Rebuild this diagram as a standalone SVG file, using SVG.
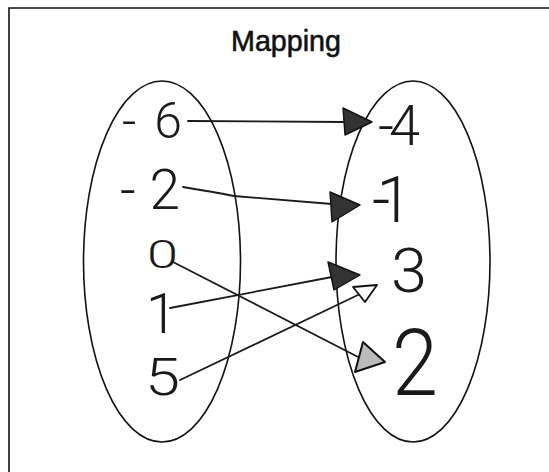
<svg xmlns="http://www.w3.org/2000/svg" width="549" height="472" viewBox="0 0 549 472">
<defs>
<style>
.frame{fill:none;stroke:#111;stroke-width:1.6}
.set{fill:none;stroke:#111;stroke-width:1.6}
.title{font-family:"Liberation Sans","DejaVu Sans",sans-serif;font-size:30px;fill:#111;stroke:#111;stroke-width:0.6;text-anchor:middle}
.num{font-family:Roboto,"Liberation Sans",sans-serif;font-weight:300;fill:#1a1a1a}
.edge{fill:none;stroke:#1a1a1a;stroke-width:1.8;stroke-linecap:round}
.headfill{fill:#333;stroke:#111;stroke-width:1.4;stroke-linejoin:round}
.headopen{fill:#fff;stroke:#111;stroke-width:1.8;stroke-linejoin:round}
.headhatch{fill:#bbb;stroke:#111;stroke-width:2;stroke-linejoin:round}
</style>
</defs>
<rect width="549" height="472" fill="#fff"/>
<path class="frame" d="M9,480 L9,8 L560,8"/>
<text class="title" x="286" y="51" textLength="110" lengthAdjust="spacingAndGlyphs">Mapping</text>

<g id="domain">
<ellipse class="set" cx="162" cy="261.5" rx="78.5" ry="180.5"/>
</g>
<g id="range">
<ellipse class="set" cx="413" cy="261.5" rx="77" ry="180.5"/>
</g>

<g id="n-neg6"><text class="num" x="122" y="138" font-size="50" textLength="60" lengthAdjust="spacing">-6</text></g>
<g id="n-neg2"><text class="num" x="120" y="209" font-size="55" textLength="60" lengthAdjust="spacing">-2</text></g>
<g id="n-0"><text class="num" x="147" y="268" font-size="38" textLength="31" lengthAdjust="spacingAndGlyphs">0</text></g>
<g id="n-1"><text class="num" x="146" y="333" font-size="56">1</text></g>
<g id="n-5"><text class="num" x="145" y="395" font-size="52" textLength="35" lengthAdjust="spacingAndGlyphs">5</text></g>

<g id="n-neg4"><text class="num" x="378" y="145" font-size="56" textLength="42" lengthAdjust="spacing">-4</text></g>
<g id="n-neg1"><text class="num" x="372" y="222" font-size="64" textLength="40" lengthAdjust="spacing">-1</text></g>
<g id="n-3"><text class="num" x="391" y="292" font-size="62" textLength="36" lengthAdjust="spacingAndGlyphs">3</text></g>
<g id="n-2"><text class="num" x="392" y="395" font-size="92" textLength="46" lengthAdjust="spacingAndGlyphs">2</text></g>

<g id="connectors">
<path class="edge" d="M188,121 L345,122"/>
<polygon class="headfill" points="343,108 372,122 345,135"/>
<path class="edge" d="M183,187 Q225,194 234,196 L332,204"/>
<polygon class="headfill" points="330,192 360,205 332,222"/>
<path class="edge" d="M173,262 L362,359"/>
<polygon class="headhatch" points="363,342 385,362 355,372"/>
<path class="edge" d="M170,308 L332,277"/>
<polygon class="headfill" points="328,262 360,275 334,290"/>
<path class="edge" d="M180,380 L360,294"/>
<polygon class="headopen" points="353,287 377,285 365,302"/>
</g>
</svg>
